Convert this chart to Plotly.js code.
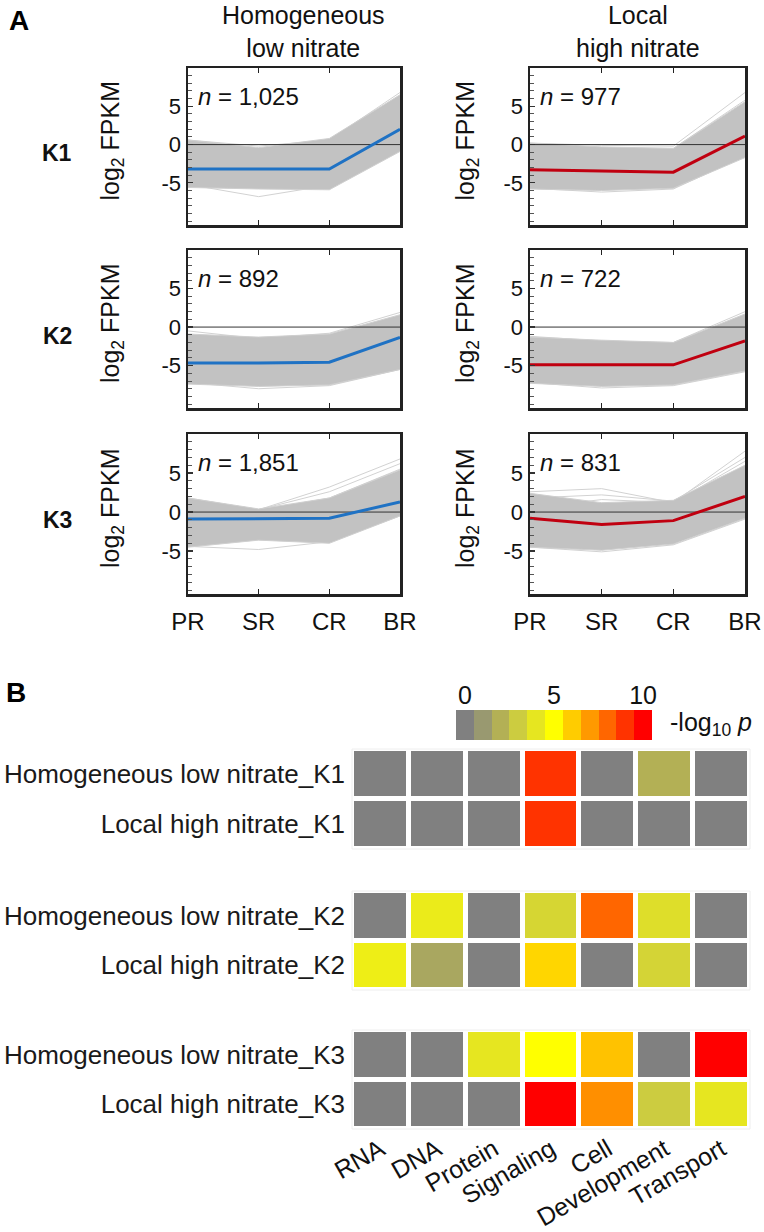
<!DOCTYPE html>
<html><head><meta charset="utf-8">
<script src="https://cdn.plot.ly/plotly-3.0.1.min.js"></script>
<style>html,body{margin:0;padding:0;background:#fff}#chart{width:764px;height:1232px}</style>
</head><body><div id="chart"></div>
<script>
// ---------- DATA ----------
const positions = ['PR','SR','CR','BR'];
const conditions = ['Homogeneous<br>low nitrate','Local<br>high nitrate'];
const clusters = ['K1','K2','K3'];
const geneCounts = ['1,025','977','892','722','1,851','831']; // order: K1L,K1R,K2L,K2R,K3L,K3R

// mean profiles (log2 FPKM)
const meanK1Homog = [-3.2,-3.2,-3.2,2.0];
const meanK1Local = [-3.3,-3.45,-3.6,1.1];
const meanK2Homog = [-4.65,-4.65,-4.55,-1.35];
const meanK2Local = [-4.9,-4.9,-4.9,-1.8];
const meanK3Homog = [-0.9,-0.85,-0.8,1.3];
const meanK3Local = [-0.8,-1.6,-1.1,2.0];

// envelope of the individual gene profiles (upper / lower)
const upperK1Homog = [0.6,-0.4,0.8,6.5];   const lowerK1Homog = [-5.6,-5.8,-5.9,-0.9];
const upperK1Local = [0.2,-0.3,-0.5,5.6];  const lowerK1Local = [-5.8,-6.0,-5.7,-1.7];
const upperK2Homog = [-0.9,-1.3,-0.9,1.6]; const lowerK2Homog = [-7.4,-7.7,-7.5,-5.5];
const upperK2Local = [-1.3,-1.7,-2.0,1.7]; const lowerK2Local = [-7.3,-7.7,-7.5,-5.7];
const upperK3Homog = [1.8,0.4,1.8,5.4];    const lowerK3Homog = [-4.5,-3.6,-4.0,-0.5];
const upperK3Local = [2.4,1.2,1.5,6.0];    const lowerK3Local = [-4.5,-4.9,-4.1,-0.8];

// a few visible outlier gene profiles
const outK1Homog = [[0.6,-0.2,0.6,6.8],[-5.2,-6.8,-5.3,-0.5],[0.3,-1.0,-0.2,3.5]];
const outK1Local = [[0.2,-0.1,-0.2,6.8],[-5.7,-6.2,-5.8,-1.5],[0.0,-0.4,-0.5,5.8]];
const outK2Homog = [[-0.5,-1.5,-0.8,1.9],[-7.2,-8.0,-7.6,-5.5]];
const outK2Local = [[-1.2,-1.8,-2.0,2.0],[-7.2,-7.9,-7.6,-5.8]];
const outK3Homog = [[1.8,0.3,3.2,6.8],[1.0,0.3,2.6,6.2],[-4.4,-4.8,-3.8,-0.5],[0.5,0.2,1.8,5.5]];
const outK3Local = [[2.6,3.0,1.2,7.8],[1.8,2.2,1.4,7.0],[-4.5,-5.1,-4.2,-0.9],[0.5,1.6,1.2,6.5]];

// Panel B
const categories = ['RNA','DNA','Protein','Signaling','Cell','Development','Transport'];
const rowsG1 = ['Homogeneous low nitrate_K1','Local high nitrate_K1'];
const rowsG2 = ['Homogeneous low nitrate_K2','Local high nitrate_K2'];
const rowsG3 = ['Homogeneous low nitrate_K3','Local high nitrate_K3'];
const zG1 = [[0,0,0,9,0,2,0],[0,0,0,9,0,0,0]];
const zG2 = [[0,4.2,0,3.4,8,3.7,0],[4.3,1.6,0,5.8,0,3.3,0]];
const zG3 = [[0,0,4,5,6.2,0,10],[0,0,0,10,7.2,3,4]];
const scaleValues = [0,1,2,3,4,5,6,7,8,9,10];
const scaleTicks = [0,5,10];
const scaleColors = ['#808080','#999970','#b3b055','#cccc40','#e6e620','#ffff00','#ffcc00','#ff9900','#ff6600','#ff3300','#ff0000'];

// ---------- LAYOUT HELPERS ----------
const W=764,H=1232;
const PX=x=>x/W, PY=y=>1-y/H;
const FONT='Liberation Sans, Arial, Helvetica, sans-serif';
const colX=[[188,400],[530,745]];
const rowY=[[68,225],[250,408],[434,594]];
const panels=[
 {mean:meanK1Homog,up:upperK1Homog,lo:lowerK1Homog,out:outK1Homog,col:0,row:0},
 {mean:meanK1Local,up:upperK1Local,lo:lowerK1Local,out:outK1Local,col:1,row:0},
 {mean:meanK2Homog,up:upperK2Homog,lo:lowerK2Homog,out:outK2Homog,col:0,row:1},
 {mean:meanK2Local,up:upperK2Local,lo:lowerK2Local,out:outK2Local,col:1,row:1},
 {mean:meanK3Homog,up:upperK3Homog,lo:lowerK3Homog,out:outK3Homog,col:0,row:2},
 {mean:meanK3Local,up:upperK3Local,lo:lowerK3Local,out:outK3Local,col:1,row:2}
];
const xIdx = positions.map((_,i)=>i);
const traces=[]; const layout={width:W,height:H,margin:{l:0,r:0,t:0,b:0},showlegend:false,
  paper_bgcolor:'#fff',plot_bgcolor:'#fff',font:{family:FONT,color:'#111'},annotations:[],shapes:[]};

panels.forEach((p,i)=>{
  const n=i+1, xa='x'+n, ya='y'+n;
  p.out.forEach(o=>traces.push({x:xIdx,y:o,xaxis:xa,yaxis:ya,type:'scatter',mode:'lines',
    line:{color:'#d2d2d2',width:1},hoverinfo:'skip'}));
  traces.push({x:xIdx,y:p.lo,xaxis:xa,yaxis:ya,type:'scatter',mode:'lines',line:{color:'#cfcfcf',width:1},hoverinfo:'skip'});
  traces.push({x:xIdx,y:p.up,xaxis:xa,yaxis:ya,type:'scatter',mode:'lines',fill:'tonexty',fillcolor:'#c2c2c2',
    line:{color:'#cfcfcf',width:1},hoverinfo:'skip'});
  traces.push({x:[xIdx[0],xIdx[xIdx.length-1]],y:[0,0],xaxis:xa,yaxis:ya,type:'scatter',mode:'lines',
    line:{color:'#333',width:1},hoverinfo:'skip'});
  traces.push({x:xIdx,y:p.mean,xaxis:xa,yaxis:ya,type:'scatter',mode:'lines',
    line:{color:p.col===0?'#1f72c4':'#c00010',width:3}});
  const cx=colX[p.col], ry=rowY[p.row];
  layout['xaxis'+n]={domain:[PX(cx[0]),PX(cx[1])],anchor:ya,range:[0,3],tickmode:'array',tickvals:xIdx,ticktext:positions,
    showticklabels:p.row===2,ticks:'inside',ticklen:5,tickwidth:1.2,tickcolor:'#222',showline:true,linewidth:2.5,linecolor:'#222',
    mirror:'ticks',showgrid:false,zeroline:false,tickfont:{size:24,color:'#111'},ticklabelstandoff:5,fixedrange:true};
  layout['yaxis'+n]={domain:[PY(ry[1]),PY(ry[0])],anchor:xa,range:[-10.5,10],tickmode:'array',tickvals:[-5,0,5],ticktext:['-5','0','5'],
    ticks:'inside',ticklen:5,tickwidth:1.2,tickcolor:'#333',minor:{tick0:0,dtick:1,ticks:'inside',ticklen:4,tickcolor:'#555',tickwidth:1},
    showline:true,linewidth:2.5,linecolor:'#222',mirror:true,showgrid:false,zeroline:false,tickfont:{size:22,color:'#111'},fixedrange:true};
  layout.annotations.push({xref:'paper',yref:'paper',x:PX(cx[0]+8),y:PY(ry[0]+28),xanchor:'left',yanchor:'middle',
    text:'<i>n</i> = '+geneCounts[i],showarrow:false,font:{size:24,color:'#111'}});
  layout.annotations.push({xref:'paper',yref:'paper',x:PX(p.col===0?112:467),y:PY((ry[0]+ry[1])/2-6),xanchor:'center',yanchor:'middle',
    textangle:-90,text:'log<sub>2</sub> FPKM',showarrow:false,font:{size:25,color:'#111'}});
});
[303,638].forEach((cx,c)=>layout.annotations.push({xref:'paper',yref:'paper',x:PX(cx),y:PY(31),xanchor:'center',yanchor:'middle',
  text:conditions[c],showarrow:false,font:{size:25,color:'#111'}}));
[153,336,520].forEach((yy,r)=>layout.annotations.push({xref:'paper',yref:'paper',x:PX(57),y:PY(yy),xanchor:'center',yanchor:'middle',
  text:'<b>'+clusters[r]+'</b>',showarrow:false,font:{size:23,color:'#111'}}));
layout.annotations.push({xref:'paper',yref:'paper',x:PX(7),y:PY(20),xanchor:'left',yanchor:'middle',text:'<b>A</b>',showarrow:false,font:{size:28,color:'#000'}});
layout.annotations.push({xref:'paper',yref:'paper',x:PX(4),y:PY(692),xanchor:'left',yanchor:'middle',text:'<b>B</b>',showarrow:false,font:{size:28,color:'#000'}});

// ---------- PANEL B ----------
const colorscale = scaleColors.map((c,i)=>[i/(scaleColors.length-1),c]);
traces.push({type:'heatmap',x:scaleValues,y:[''],z:[scaleValues],xaxis:'x7',yaxis:'y7',colorscale:colorscale,zmin:0,zmax:10,showscale:false,hoverinfo:'skip'});
layout.xaxis7={domain:[PX(456),PX(652)],anchor:'y7',side:'top',range:[-0.5,10.5],tickmode:'array',tickvals:scaleTicks,ticktext:scaleTicks.map(String),
  ticks:'',showline:false,showgrid:false,zeroline:false,tickfont:{size:25,color:'#111'},ticklabelstandoff:0,fixedrange:true};
layout.yaxis7={domain:[PY(740),PY(710)],anchor:'x7',visible:false,fixedrange:true};
layout.annotations.push({xref:'paper',yref:'paper',x:PX(668),y:PY(724),xanchor:'left',yanchor:'middle',
  text:'-log<sub>10</sub> <i>p</i>',showarrow:false,font:{size:25,color:'#111'}});

const groups=[[rowsG1,zG1,[749,849]],[rowsG2,zG2,[891,990]],[rowsG3,zG3,[1030,1129]]];
groups.forEach((g,k)=>{
  const ya='y'+(8+k);
  traces.push({type:'heatmap',x:categories,y:g[0],z:g[1],xaxis:'x8',yaxis:ya,colorscale:colorscale,zmin:0,zmax:10,
    showscale:false,xgap:5,ygap:5});
  layout['yaxis'+(8+k)]={domain:[PY(g[2][1]),PY(g[2][0])],anchor:'x8',autorange:'reversed',ticks:'',showgrid:false,zeroline:false,
    showline:false,tickfont:{size:26,color:'#1a1a1a'},ticklabelstandoff:6,fixedrange:true};
  layout.shapes.push({type:'rect',xref:'x8 domain',yref:ya+' domain',x0:0,x1:1,y0:0,y1:1,line:{color:'#eeeeee',width:1},layer:'below'});
});
layout.xaxis8={domain:[PX(352),PX(750)],anchor:'y10',tickangle:-30,ticks:'',showgrid:false,zeroline:false,showline:false,
  tickfont:{size:25,color:'#111'},ticklabelstandoff:0,fixedrange:true};

Plotly.newPlot('chart',traces,layout,{staticPlot:true,displayModeBar:false});
</script></body></html>
